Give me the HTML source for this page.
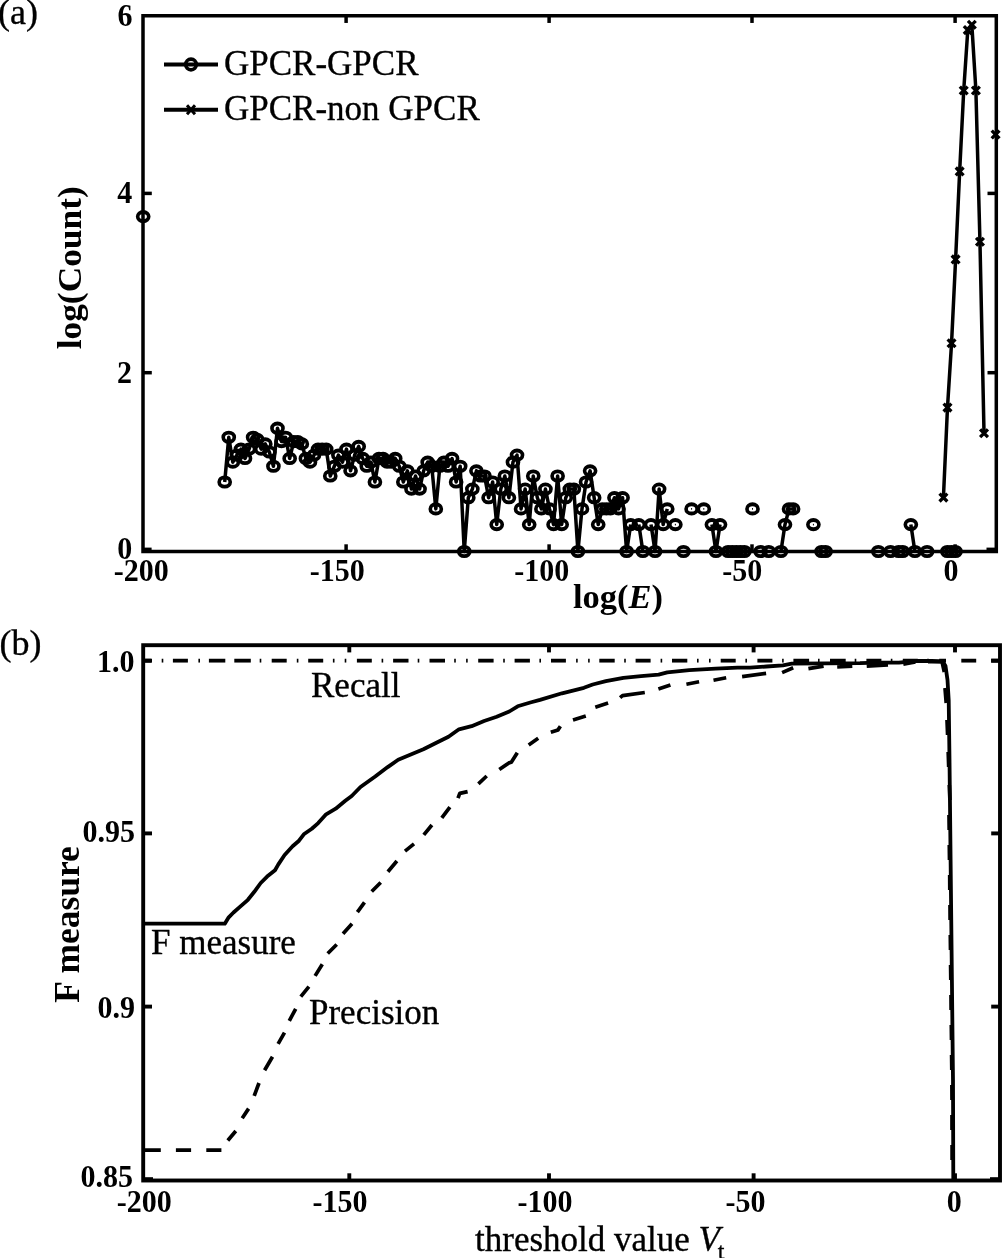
<!DOCTYPE html>
<html><head><meta charset="utf-8"><style>
html,body{margin:0;padding:0;background:#fff;overflow:hidden;}
svg{display:block;font-family:"Liberation Serif",serif;will-change:transform;}
</style></head><body>
<svg width="1002" height="1258" viewBox="0 0 1002 1258" font-family="Liberation Serif, serif">
<rect x="143" y="15.75" width="853.30" height="535.75" fill="none" stroke="#000" stroke-width="3.5"/>
<line x1="346.10" y1="551.5" x2="346.10" y2="544.3" stroke="#000" stroke-width="3.5"/>
<line x1="346.10" y1="15.75" x2="346.10" y2="22.95" stroke="#000" stroke-width="3.5"/>
<line x1="549.10" y1="551.5" x2="549.10" y2="544.3" stroke="#000" stroke-width="3.5"/>
<line x1="549.10" y1="15.75" x2="549.10" y2="22.95" stroke="#000" stroke-width="3.5"/>
<line x1="752.00" y1="551.5" x2="752.00" y2="544.3" stroke="#000" stroke-width="3.5"/>
<line x1="752.00" y1="15.75" x2="752.00" y2="22.95" stroke="#000" stroke-width="3.5"/>
<line x1="955.10" y1="551.5" x2="955.10" y2="544.3" stroke="#000" stroke-width="3.5"/>
<line x1="955.10" y1="15.75" x2="955.10" y2="22.95" stroke="#000" stroke-width="3.5"/>
<line x1="143" y1="372.70" x2="151.8" y2="372.70" stroke="#000" stroke-width="3.5"/>
<line x1="996.3" y1="372.70" x2="987.5" y2="372.70" stroke="#000" stroke-width="3.5"/>
<line x1="143" y1="193.40" x2="151.8" y2="193.40" stroke="#000" stroke-width="3.5"/>
<line x1="996.3" y1="193.40" x2="987.5" y2="193.40" stroke="#000" stroke-width="3.5"/>
<rect x="143" y="547.6" width="8.6" height="2.4" fill="#000"/>
<rect x="986.5" y="547.6" width="9" height="2.4" fill="#000"/>
<rect x="143" y="1177.2" width="10" height="2.4" fill="#000"/>
<rect x="990" y="1177.2" width="9" height="2.4" fill="#000"/>
<rect x="143.2" y="645.2" width="856.80" height="535.30" fill="none" stroke="#000" stroke-width="3.9"/>
<line x1="349.30" y1="1180.5" x2="349.30" y2="1173.3" stroke="#000" stroke-width="3.9"/>
<line x1="349.30" y1="645.2" x2="349.30" y2="652.4000000000001" stroke="#000" stroke-width="3.9"/>
<line x1="549.00" y1="1180.5" x2="549.00" y2="1173.3" stroke="#000" stroke-width="3.9"/>
<line x1="549.00" y1="645.2" x2="549.00" y2="652.4000000000001" stroke="#000" stroke-width="3.9"/>
<line x1="753.60" y1="1180.5" x2="753.60" y2="1173.3" stroke="#000" stroke-width="3.9"/>
<line x1="753.60" y1="645.2" x2="753.60" y2="652.4000000000001" stroke="#000" stroke-width="3.9"/>
<line x1="955.00" y1="1180.5" x2="955.00" y2="1173.3" stroke="#000" stroke-width="3.9"/>
<line x1="955.00" y1="645.2" x2="955.00" y2="652.4000000000001" stroke="#000" stroke-width="3.9"/>
<line x1="143.2" y1="1006.60" x2="152.0" y2="1006.60" stroke="#000" stroke-width="3.9"/>
<line x1="1000" y1="1006.60" x2="991.2" y2="1006.60" stroke="#000" stroke-width="3.9"/>
<line x1="143.2" y1="833.40" x2="152.0" y2="833.40" stroke="#000" stroke-width="3.9"/>
<line x1="1000" y1="833.40" x2="991.2" y2="833.40" stroke="#000" stroke-width="3.9"/>
<line x1="143.2" y1="660.70" x2="152.0" y2="660.70" stroke="#000" stroke-width="3.9"/>
<line x1="1000" y1="660.70" x2="991.2" y2="660.70" stroke="#000" stroke-width="3.9"/>
<path d="M224.70,481.99 L228.76,437.27 L232.82,462.17 L236.88,455.10 L240.94,449.12 L245.00,458.47 L249.06,449.12 L253.12,437.27 L257.18,439.37 L261.24,449.12 L265.30,443.94 L269.36,451.99 L273.42,466.26 L277.48,428.21 L281.54,441.58 L285.60,437.27 L289.66,458.47 L293.72,441.58 L297.78,441.58 L301.84,443.94 L305.90,458.47 L309.96,462.17 L314.02,455.10 L318.08,449.12 L322.14,449.12 L326.20,449.12 L330.26,476.01 L334.32,466.26 L338.38,455.10 L342.44,462.17 L346.50,449.12 L350.56,470.83 L354.62,455.10 L358.68,446.44 L362.74,458.47 L366.80,466.26 L370.86,462.17 L374.92,481.99 L378.98,458.47 L383.04,458.47 L387.10,462.17 L391.16,462.17 L395.22,458.47 L399.28,466.26 L403.34,481.99 L407.40,470.83 L411.46,489.06 L415.52,476.01 L419.58,489.06 L423.64,470.83 L427.70,462.17 L431.76,466.26 L435.82,508.88 L439.88,466.26 L443.94,462.17 L448.00,466.26 L452.06,458.47 L456.12,481.99 L460.18,466.26 L464.24,551.50 L468.30,497.72 L472.36,489.06 L476.42,470.83 L480.48,476.01 L484.54,476.01 L488.60,497.72 L492.66,481.99 L496.72,524.61 L500.78,489.06 L504.84,476.01 L508.90,497.72 L512.96,462.17 L517.02,455.10 L521.08,508.88 L525.14,489.06 L529.20,524.61 L533.26,476.01 L537.32,497.72 L541.38,508.88 L545.44,489.06 L549.50,508.88 L553.56,524.61 L557.62,476.01 L561.68,524.61 L565.74,497.72 L569.80,489.06 L573.86,489.06 L577.92,551.50 L581.98,508.88 L586.04,481.99 L590.10,470.83 L594.16,497.72 L598.22,524.61 L602.28,508.88 L606.34,508.88 L610.40,508.88 L614.46,497.72 L618.52,508.88 L622.58,497.72 L626.64,551.50 L630.70,524.61 M638.82,524.61 L642.88,551.50 M651.00,524.61 L655.06,551.50 L659.12,489.06 L663.18,524.61 L667.24,508.88 M711.90,524.61 L715.96,551.50 L720.02,524.61 M728.14,551.50 L732.20,551.50 L736.26,551.50 L740.32,551.50 L744.38,551.50 M780.92,551.50 L784.98,524.61 L789.04,508.88 L793.10,508.88 M821.52,551.50 L825.58,551.50 M898.66,551.50 L902.72,551.50 M910.84,524.61 L914.90,551.50 M947.38,551.50 L951.44,551.50 L955.50,551.50 " fill="none" stroke="#000" stroke-width="3.5" stroke-linejoin="round"/>
<g fill="#000" fill-rule="evenodd"><path d="M217.35,481.99a7.35,6.6 0 1,0 14.7,0a7.35,6.6 0 1,0 -14.7,0ZM221.00,481.99a3.7,2.7 0 1,0 7.4,0a3.7,2.7 0 1,0 -7.4,0Z"/><path d="M221.41,437.27a7.35,6.6 0 1,0 14.7,0a7.35,6.6 0 1,0 -14.7,0ZM225.06,437.27a3.7,2.7 0 1,0 7.4,0a3.7,2.7 0 1,0 -7.4,0Z"/><path d="M225.47,462.17a7.35,6.6 0 1,0 14.7,0a7.35,6.6 0 1,0 -14.7,0ZM229.12,462.17a3.7,2.7 0 1,0 7.4,0a3.7,2.7 0 1,0 -7.4,0Z"/><path d="M229.53,455.10a7.35,6.6 0 1,0 14.7,0a7.35,6.6 0 1,0 -14.7,0ZM233.18,455.10a3.7,2.7 0 1,0 7.4,0a3.7,2.7 0 1,0 -7.4,0Z"/><path d="M233.59,449.12a7.35,6.6 0 1,0 14.7,0a7.35,6.6 0 1,0 -14.7,0ZM237.24,449.12a3.7,2.7 0 1,0 7.4,0a3.7,2.7 0 1,0 -7.4,0Z"/><path d="M237.65,458.47a7.35,6.6 0 1,0 14.7,0a7.35,6.6 0 1,0 -14.7,0ZM241.30,458.47a3.7,2.7 0 1,0 7.4,0a3.7,2.7 0 1,0 -7.4,0Z"/><path d="M241.71,449.12a7.35,6.6 0 1,0 14.7,0a7.35,6.6 0 1,0 -14.7,0ZM245.36,449.12a3.7,2.7 0 1,0 7.4,0a3.7,2.7 0 1,0 -7.4,0Z"/><path d="M245.77,437.27a7.35,6.6 0 1,0 14.7,0a7.35,6.6 0 1,0 -14.7,0ZM249.42,437.27a3.7,2.7 0 1,0 7.4,0a3.7,2.7 0 1,0 -7.4,0Z"/><path d="M249.83,439.37a7.35,6.6 0 1,0 14.7,0a7.35,6.6 0 1,0 -14.7,0ZM253.48,439.37a3.7,2.7 0 1,0 7.4,0a3.7,2.7 0 1,0 -7.4,0Z"/><path d="M253.89,449.12a7.35,6.6 0 1,0 14.7,0a7.35,6.6 0 1,0 -14.7,0ZM257.54,449.12a3.7,2.7 0 1,0 7.4,0a3.7,2.7 0 1,0 -7.4,0Z"/><path d="M257.95,443.94a7.35,6.6 0 1,0 14.7,0a7.35,6.6 0 1,0 -14.7,0ZM261.60,443.94a3.7,2.7 0 1,0 7.4,0a3.7,2.7 0 1,0 -7.4,0Z"/><path d="M262.01,451.99a7.35,6.6 0 1,0 14.7,0a7.35,6.6 0 1,0 -14.7,0ZM265.66,451.99a3.7,2.7 0 1,0 7.4,0a3.7,2.7 0 1,0 -7.4,0Z"/><path d="M266.07,466.26a7.35,6.6 0 1,0 14.7,0a7.35,6.6 0 1,0 -14.7,0ZM269.72,466.26a3.7,2.7 0 1,0 7.4,0a3.7,2.7 0 1,0 -7.4,0Z"/><path d="M270.13,428.21a7.35,6.6 0 1,0 14.7,0a7.35,6.6 0 1,0 -14.7,0ZM273.78,428.21a3.7,2.7 0 1,0 7.4,0a3.7,2.7 0 1,0 -7.4,0Z"/><path d="M274.19,441.58a7.35,6.6 0 1,0 14.7,0a7.35,6.6 0 1,0 -14.7,0ZM277.84,441.58a3.7,2.7 0 1,0 7.4,0a3.7,2.7 0 1,0 -7.4,0Z"/><path d="M278.25,437.27a7.35,6.6 0 1,0 14.7,0a7.35,6.6 0 1,0 -14.7,0ZM281.90,437.27a3.7,2.7 0 1,0 7.4,0a3.7,2.7 0 1,0 -7.4,0Z"/><path d="M282.31,458.47a7.35,6.6 0 1,0 14.7,0a7.35,6.6 0 1,0 -14.7,0ZM285.96,458.47a3.7,2.7 0 1,0 7.4,0a3.7,2.7 0 1,0 -7.4,0Z"/><path d="M286.37,441.58a7.35,6.6 0 1,0 14.7,0a7.35,6.6 0 1,0 -14.7,0ZM290.02,441.58a3.7,2.7 0 1,0 7.4,0a3.7,2.7 0 1,0 -7.4,0Z"/><path d="M290.43,441.58a7.35,6.6 0 1,0 14.7,0a7.35,6.6 0 1,0 -14.7,0ZM294.08,441.58a3.7,2.7 0 1,0 7.4,0a3.7,2.7 0 1,0 -7.4,0Z"/><path d="M294.49,443.94a7.35,6.6 0 1,0 14.7,0a7.35,6.6 0 1,0 -14.7,0ZM298.14,443.94a3.7,2.7 0 1,0 7.4,0a3.7,2.7 0 1,0 -7.4,0Z"/><path d="M298.55,458.47a7.35,6.6 0 1,0 14.7,0a7.35,6.6 0 1,0 -14.7,0ZM302.20,458.47a3.7,2.7 0 1,0 7.4,0a3.7,2.7 0 1,0 -7.4,0Z"/><path d="M302.61,462.17a7.35,6.6 0 1,0 14.7,0a7.35,6.6 0 1,0 -14.7,0ZM306.26,462.17a3.7,2.7 0 1,0 7.4,0a3.7,2.7 0 1,0 -7.4,0Z"/><path d="M306.67,455.10a7.35,6.6 0 1,0 14.7,0a7.35,6.6 0 1,0 -14.7,0ZM310.32,455.10a3.7,2.7 0 1,0 7.4,0a3.7,2.7 0 1,0 -7.4,0Z"/><path d="M310.73,449.12a7.35,6.6 0 1,0 14.7,0a7.35,6.6 0 1,0 -14.7,0ZM314.38,449.12a3.7,2.7 0 1,0 7.4,0a3.7,2.7 0 1,0 -7.4,0Z"/><path d="M314.79,449.12a7.35,6.6 0 1,0 14.7,0a7.35,6.6 0 1,0 -14.7,0ZM318.44,449.12a3.7,2.7 0 1,0 7.4,0a3.7,2.7 0 1,0 -7.4,0Z"/><path d="M318.85,449.12a7.35,6.6 0 1,0 14.7,0a7.35,6.6 0 1,0 -14.7,0ZM322.50,449.12a3.7,2.7 0 1,0 7.4,0a3.7,2.7 0 1,0 -7.4,0Z"/><path d="M322.91,476.01a7.35,6.6 0 1,0 14.7,0a7.35,6.6 0 1,0 -14.7,0ZM326.56,476.01a3.7,2.7 0 1,0 7.4,0a3.7,2.7 0 1,0 -7.4,0Z"/><path d="M326.97,466.26a7.35,6.6 0 1,0 14.7,0a7.35,6.6 0 1,0 -14.7,0ZM330.62,466.26a3.7,2.7 0 1,0 7.4,0a3.7,2.7 0 1,0 -7.4,0Z"/><path d="M331.03,455.10a7.35,6.6 0 1,0 14.7,0a7.35,6.6 0 1,0 -14.7,0ZM334.68,455.10a3.7,2.7 0 1,0 7.4,0a3.7,2.7 0 1,0 -7.4,0Z"/><path d="M335.09,462.17a7.35,6.6 0 1,0 14.7,0a7.35,6.6 0 1,0 -14.7,0ZM338.74,462.17a3.7,2.7 0 1,0 7.4,0a3.7,2.7 0 1,0 -7.4,0Z"/><path d="M339.15,449.12a7.35,6.6 0 1,0 14.7,0a7.35,6.6 0 1,0 -14.7,0ZM342.80,449.12a3.7,2.7 0 1,0 7.4,0a3.7,2.7 0 1,0 -7.4,0Z"/><path d="M343.21,470.83a7.35,6.6 0 1,0 14.7,0a7.35,6.6 0 1,0 -14.7,0ZM346.86,470.83a3.7,2.7 0 1,0 7.4,0a3.7,2.7 0 1,0 -7.4,0Z"/><path d="M347.27,455.10a7.35,6.6 0 1,0 14.7,0a7.35,6.6 0 1,0 -14.7,0ZM350.92,455.10a3.7,2.7 0 1,0 7.4,0a3.7,2.7 0 1,0 -7.4,0Z"/><path d="M351.33,446.44a7.35,6.6 0 1,0 14.7,0a7.35,6.6 0 1,0 -14.7,0ZM354.98,446.44a3.7,2.7 0 1,0 7.4,0a3.7,2.7 0 1,0 -7.4,0Z"/><path d="M355.39,458.47a7.35,6.6 0 1,0 14.7,0a7.35,6.6 0 1,0 -14.7,0ZM359.04,458.47a3.7,2.7 0 1,0 7.4,0a3.7,2.7 0 1,0 -7.4,0Z"/><path d="M359.45,466.26a7.35,6.6 0 1,0 14.7,0a7.35,6.6 0 1,0 -14.7,0ZM363.10,466.26a3.7,2.7 0 1,0 7.4,0a3.7,2.7 0 1,0 -7.4,0Z"/><path d="M363.51,462.17a7.35,6.6 0 1,0 14.7,0a7.35,6.6 0 1,0 -14.7,0ZM367.16,462.17a3.7,2.7 0 1,0 7.4,0a3.7,2.7 0 1,0 -7.4,0Z"/><path d="M367.57,481.99a7.35,6.6 0 1,0 14.7,0a7.35,6.6 0 1,0 -14.7,0ZM371.22,481.99a3.7,2.7 0 1,0 7.4,0a3.7,2.7 0 1,0 -7.4,0Z"/><path d="M371.63,458.47a7.35,6.6 0 1,0 14.7,0a7.35,6.6 0 1,0 -14.7,0ZM375.28,458.47a3.7,2.7 0 1,0 7.4,0a3.7,2.7 0 1,0 -7.4,0Z"/><path d="M375.69,458.47a7.35,6.6 0 1,0 14.7,0a7.35,6.6 0 1,0 -14.7,0ZM379.34,458.47a3.7,2.7 0 1,0 7.4,0a3.7,2.7 0 1,0 -7.4,0Z"/><path d="M379.75,462.17a7.35,6.6 0 1,0 14.7,0a7.35,6.6 0 1,0 -14.7,0ZM383.40,462.17a3.7,2.7 0 1,0 7.4,0a3.7,2.7 0 1,0 -7.4,0Z"/><path d="M383.81,462.17a7.35,6.6 0 1,0 14.7,0a7.35,6.6 0 1,0 -14.7,0ZM387.46,462.17a3.7,2.7 0 1,0 7.4,0a3.7,2.7 0 1,0 -7.4,0Z"/><path d="M387.87,458.47a7.35,6.6 0 1,0 14.7,0a7.35,6.6 0 1,0 -14.7,0ZM391.52,458.47a3.7,2.7 0 1,0 7.4,0a3.7,2.7 0 1,0 -7.4,0Z"/><path d="M391.93,466.26a7.35,6.6 0 1,0 14.7,0a7.35,6.6 0 1,0 -14.7,0ZM395.58,466.26a3.7,2.7 0 1,0 7.4,0a3.7,2.7 0 1,0 -7.4,0Z"/><path d="M395.99,481.99a7.35,6.6 0 1,0 14.7,0a7.35,6.6 0 1,0 -14.7,0ZM399.64,481.99a3.7,2.7 0 1,0 7.4,0a3.7,2.7 0 1,0 -7.4,0Z"/><path d="M400.05,470.83a7.35,6.6 0 1,0 14.7,0a7.35,6.6 0 1,0 -14.7,0ZM403.70,470.83a3.7,2.7 0 1,0 7.4,0a3.7,2.7 0 1,0 -7.4,0Z"/><path d="M404.11,489.06a7.35,6.6 0 1,0 14.7,0a7.35,6.6 0 1,0 -14.7,0ZM407.76,489.06a3.7,2.7 0 1,0 7.4,0a3.7,2.7 0 1,0 -7.4,0Z"/><path d="M408.17,476.01a7.35,6.6 0 1,0 14.7,0a7.35,6.6 0 1,0 -14.7,0ZM411.82,476.01a3.7,2.7 0 1,0 7.4,0a3.7,2.7 0 1,0 -7.4,0Z"/><path d="M412.23,489.06a7.35,6.6 0 1,0 14.7,0a7.35,6.6 0 1,0 -14.7,0ZM415.88,489.06a3.7,2.7 0 1,0 7.4,0a3.7,2.7 0 1,0 -7.4,0Z"/><path d="M416.29,470.83a7.35,6.6 0 1,0 14.7,0a7.35,6.6 0 1,0 -14.7,0ZM419.94,470.83a3.7,2.7 0 1,0 7.4,0a3.7,2.7 0 1,0 -7.4,0Z"/><path d="M420.35,462.17a7.35,6.6 0 1,0 14.7,0a7.35,6.6 0 1,0 -14.7,0ZM424.00,462.17a3.7,2.7 0 1,0 7.4,0a3.7,2.7 0 1,0 -7.4,0Z"/><path d="M424.41,466.26a7.35,6.6 0 1,0 14.7,0a7.35,6.6 0 1,0 -14.7,0ZM428.06,466.26a3.7,2.7 0 1,0 7.4,0a3.7,2.7 0 1,0 -7.4,0Z"/><path d="M428.47,508.88a7.35,6.6 0 1,0 14.7,0a7.35,6.6 0 1,0 -14.7,0ZM432.12,508.88a3.7,2.7 0 1,0 7.4,0a3.7,2.7 0 1,0 -7.4,0Z"/><path d="M432.53,466.26a7.35,6.6 0 1,0 14.7,0a7.35,6.6 0 1,0 -14.7,0ZM436.18,466.26a3.7,2.7 0 1,0 7.4,0a3.7,2.7 0 1,0 -7.4,0Z"/><path d="M436.59,462.17a7.35,6.6 0 1,0 14.7,0a7.35,6.6 0 1,0 -14.7,0ZM440.24,462.17a3.7,2.7 0 1,0 7.4,0a3.7,2.7 0 1,0 -7.4,0Z"/><path d="M440.65,466.26a7.35,6.6 0 1,0 14.7,0a7.35,6.6 0 1,0 -14.7,0ZM444.30,466.26a3.7,2.7 0 1,0 7.4,0a3.7,2.7 0 1,0 -7.4,0Z"/><path d="M444.71,458.47a7.35,6.6 0 1,0 14.7,0a7.35,6.6 0 1,0 -14.7,0ZM448.36,458.47a3.7,2.7 0 1,0 7.4,0a3.7,2.7 0 1,0 -7.4,0Z"/><path d="M448.77,481.99a7.35,6.6 0 1,0 14.7,0a7.35,6.6 0 1,0 -14.7,0ZM452.42,481.99a3.7,2.7 0 1,0 7.4,0a3.7,2.7 0 1,0 -7.4,0Z"/><path d="M452.83,466.26a7.35,6.6 0 1,0 14.7,0a7.35,6.6 0 1,0 -14.7,0ZM456.48,466.26a3.7,2.7 0 1,0 7.4,0a3.7,2.7 0 1,0 -7.4,0Z"/><path d="M456.89,551.50a7.35,6.6 0 1,0 14.7,0a7.35,6.6 0 1,0 -14.7,0ZM460.54,551.50a3.7,2.7 0 1,0 7.4,0a3.7,2.7 0 1,0 -7.4,0Z"/><path d="M460.95,497.72a7.35,6.6 0 1,0 14.7,0a7.35,6.6 0 1,0 -14.7,0ZM464.60,497.72a3.7,2.7 0 1,0 7.4,0a3.7,2.7 0 1,0 -7.4,0Z"/><path d="M465.01,489.06a7.35,6.6 0 1,0 14.7,0a7.35,6.6 0 1,0 -14.7,0ZM468.66,489.06a3.7,2.7 0 1,0 7.4,0a3.7,2.7 0 1,0 -7.4,0Z"/><path d="M469.07,470.83a7.35,6.6 0 1,0 14.7,0a7.35,6.6 0 1,0 -14.7,0ZM472.72,470.83a3.7,2.7 0 1,0 7.4,0a3.7,2.7 0 1,0 -7.4,0Z"/><path d="M473.13,476.01a7.35,6.6 0 1,0 14.7,0a7.35,6.6 0 1,0 -14.7,0ZM476.78,476.01a3.7,2.7 0 1,0 7.4,0a3.7,2.7 0 1,0 -7.4,0Z"/><path d="M477.19,476.01a7.35,6.6 0 1,0 14.7,0a7.35,6.6 0 1,0 -14.7,0ZM480.84,476.01a3.7,2.7 0 1,0 7.4,0a3.7,2.7 0 1,0 -7.4,0Z"/><path d="M481.25,497.72a7.35,6.6 0 1,0 14.7,0a7.35,6.6 0 1,0 -14.7,0ZM484.90,497.72a3.7,2.7 0 1,0 7.4,0a3.7,2.7 0 1,0 -7.4,0Z"/><path d="M485.31,481.99a7.35,6.6 0 1,0 14.7,0a7.35,6.6 0 1,0 -14.7,0ZM488.96,481.99a3.7,2.7 0 1,0 7.4,0a3.7,2.7 0 1,0 -7.4,0Z"/><path d="M489.37,524.61a7.35,6.6 0 1,0 14.7,0a7.35,6.6 0 1,0 -14.7,0ZM493.02,524.61a3.7,2.7 0 1,0 7.4,0a3.7,2.7 0 1,0 -7.4,0Z"/><path d="M493.43,489.06a7.35,6.6 0 1,0 14.7,0a7.35,6.6 0 1,0 -14.7,0ZM497.08,489.06a3.7,2.7 0 1,0 7.4,0a3.7,2.7 0 1,0 -7.4,0Z"/><path d="M497.49,476.01a7.35,6.6 0 1,0 14.7,0a7.35,6.6 0 1,0 -14.7,0ZM501.14,476.01a3.7,2.7 0 1,0 7.4,0a3.7,2.7 0 1,0 -7.4,0Z"/><path d="M501.55,497.72a7.35,6.6 0 1,0 14.7,0a7.35,6.6 0 1,0 -14.7,0ZM505.20,497.72a3.7,2.7 0 1,0 7.4,0a3.7,2.7 0 1,0 -7.4,0Z"/><path d="M505.61,462.17a7.35,6.6 0 1,0 14.7,0a7.35,6.6 0 1,0 -14.7,0ZM509.26,462.17a3.7,2.7 0 1,0 7.4,0a3.7,2.7 0 1,0 -7.4,0Z"/><path d="M509.67,455.10a7.35,6.6 0 1,0 14.7,0a7.35,6.6 0 1,0 -14.7,0ZM513.32,455.10a3.7,2.7 0 1,0 7.4,0a3.7,2.7 0 1,0 -7.4,0Z"/><path d="M513.73,508.88a7.35,6.6 0 1,0 14.7,0a7.35,6.6 0 1,0 -14.7,0ZM517.38,508.88a3.7,2.7 0 1,0 7.4,0a3.7,2.7 0 1,0 -7.4,0Z"/><path d="M517.79,489.06a7.35,6.6 0 1,0 14.7,0a7.35,6.6 0 1,0 -14.7,0ZM521.44,489.06a3.7,2.7 0 1,0 7.4,0a3.7,2.7 0 1,0 -7.4,0Z"/><path d="M521.85,524.61a7.35,6.6 0 1,0 14.7,0a7.35,6.6 0 1,0 -14.7,0ZM525.50,524.61a3.7,2.7 0 1,0 7.4,0a3.7,2.7 0 1,0 -7.4,0Z"/><path d="M525.91,476.01a7.35,6.6 0 1,0 14.7,0a7.35,6.6 0 1,0 -14.7,0ZM529.56,476.01a3.7,2.7 0 1,0 7.4,0a3.7,2.7 0 1,0 -7.4,0Z"/><path d="M529.97,497.72a7.35,6.6 0 1,0 14.7,0a7.35,6.6 0 1,0 -14.7,0ZM533.62,497.72a3.7,2.7 0 1,0 7.4,0a3.7,2.7 0 1,0 -7.4,0Z"/><path d="M534.03,508.88a7.35,6.6 0 1,0 14.7,0a7.35,6.6 0 1,0 -14.7,0ZM537.68,508.88a3.7,2.7 0 1,0 7.4,0a3.7,2.7 0 1,0 -7.4,0Z"/><path d="M538.09,489.06a7.35,6.6 0 1,0 14.7,0a7.35,6.6 0 1,0 -14.7,0ZM541.74,489.06a3.7,2.7 0 1,0 7.4,0a3.7,2.7 0 1,0 -7.4,0Z"/><path d="M542.15,508.88a7.35,6.6 0 1,0 14.7,0a7.35,6.6 0 1,0 -14.7,0ZM545.80,508.88a3.7,2.7 0 1,0 7.4,0a3.7,2.7 0 1,0 -7.4,0Z"/><path d="M546.21,524.61a7.35,6.6 0 1,0 14.7,0a7.35,6.6 0 1,0 -14.7,0ZM549.86,524.61a3.7,2.7 0 1,0 7.4,0a3.7,2.7 0 1,0 -7.4,0Z"/><path d="M550.27,476.01a7.35,6.6 0 1,0 14.7,0a7.35,6.6 0 1,0 -14.7,0ZM553.92,476.01a3.7,2.7 0 1,0 7.4,0a3.7,2.7 0 1,0 -7.4,0Z"/><path d="M554.33,524.61a7.35,6.6 0 1,0 14.7,0a7.35,6.6 0 1,0 -14.7,0ZM557.98,524.61a3.7,2.7 0 1,0 7.4,0a3.7,2.7 0 1,0 -7.4,0Z"/><path d="M558.39,497.72a7.35,6.6 0 1,0 14.7,0a7.35,6.6 0 1,0 -14.7,0ZM562.04,497.72a3.7,2.7 0 1,0 7.4,0a3.7,2.7 0 1,0 -7.4,0Z"/><path d="M562.45,489.06a7.35,6.6 0 1,0 14.7,0a7.35,6.6 0 1,0 -14.7,0ZM566.10,489.06a3.7,2.7 0 1,0 7.4,0a3.7,2.7 0 1,0 -7.4,0Z"/><path d="M566.51,489.06a7.35,6.6 0 1,0 14.7,0a7.35,6.6 0 1,0 -14.7,0ZM570.16,489.06a3.7,2.7 0 1,0 7.4,0a3.7,2.7 0 1,0 -7.4,0Z"/><path d="M570.57,551.50a7.35,6.6 0 1,0 14.7,0a7.35,6.6 0 1,0 -14.7,0ZM574.22,551.50a3.7,2.7 0 1,0 7.4,0a3.7,2.7 0 1,0 -7.4,0Z"/><path d="M574.63,508.88a7.35,6.6 0 1,0 14.7,0a7.35,6.6 0 1,0 -14.7,0ZM578.28,508.88a3.7,2.7 0 1,0 7.4,0a3.7,2.7 0 1,0 -7.4,0Z"/><path d="M578.69,481.99a7.35,6.6 0 1,0 14.7,0a7.35,6.6 0 1,0 -14.7,0ZM582.34,481.99a3.7,2.7 0 1,0 7.4,0a3.7,2.7 0 1,0 -7.4,0Z"/><path d="M582.75,470.83a7.35,6.6 0 1,0 14.7,0a7.35,6.6 0 1,0 -14.7,0ZM586.40,470.83a3.7,2.7 0 1,0 7.4,0a3.7,2.7 0 1,0 -7.4,0Z"/><path d="M586.81,497.72a7.35,6.6 0 1,0 14.7,0a7.35,6.6 0 1,0 -14.7,0ZM590.46,497.72a3.7,2.7 0 1,0 7.4,0a3.7,2.7 0 1,0 -7.4,0Z"/><path d="M590.87,524.61a7.35,6.6 0 1,0 14.7,0a7.35,6.6 0 1,0 -14.7,0ZM594.52,524.61a3.7,2.7 0 1,0 7.4,0a3.7,2.7 0 1,0 -7.4,0Z"/><path d="M594.93,508.88a7.35,6.6 0 1,0 14.7,0a7.35,6.6 0 1,0 -14.7,0ZM598.58,508.88a3.7,2.7 0 1,0 7.4,0a3.7,2.7 0 1,0 -7.4,0Z"/><path d="M598.99,508.88a7.35,6.6 0 1,0 14.7,0a7.35,6.6 0 1,0 -14.7,0ZM602.64,508.88a3.7,2.7 0 1,0 7.4,0a3.7,2.7 0 1,0 -7.4,0Z"/><path d="M603.05,508.88a7.35,6.6 0 1,0 14.7,0a7.35,6.6 0 1,0 -14.7,0ZM606.70,508.88a3.7,2.7 0 1,0 7.4,0a3.7,2.7 0 1,0 -7.4,0Z"/><path d="M607.11,497.72a7.35,6.6 0 1,0 14.7,0a7.35,6.6 0 1,0 -14.7,0ZM610.76,497.72a3.7,2.7 0 1,0 7.4,0a3.7,2.7 0 1,0 -7.4,0Z"/><path d="M611.17,508.88a7.35,6.6 0 1,0 14.7,0a7.35,6.6 0 1,0 -14.7,0ZM614.82,508.88a3.7,2.7 0 1,0 7.4,0a3.7,2.7 0 1,0 -7.4,0Z"/><path d="M615.23,497.72a7.35,6.6 0 1,0 14.7,0a7.35,6.6 0 1,0 -14.7,0ZM618.88,497.72a3.7,2.7 0 1,0 7.4,0a3.7,2.7 0 1,0 -7.4,0Z"/><path d="M619.29,551.50a7.35,6.6 0 1,0 14.7,0a7.35,6.6 0 1,0 -14.7,0ZM622.94,551.50a3.7,2.7 0 1,0 7.4,0a3.7,2.7 0 1,0 -7.4,0Z"/><path d="M623.35,524.61a7.35,6.6 0 1,0 14.7,0a7.35,6.6 0 1,0 -14.7,0ZM627.00,524.61a3.7,2.7 0 1,0 7.4,0a3.7,2.7 0 1,0 -7.4,0Z"/><path d="M631.47,524.61a7.35,6.6 0 1,0 14.7,0a7.35,6.6 0 1,0 -14.7,0ZM635.12,524.61a3.7,2.7 0 1,0 7.4,0a3.7,2.7 0 1,0 -7.4,0Z"/><path d="M635.53,551.50a7.35,6.6 0 1,0 14.7,0a7.35,6.6 0 1,0 -14.7,0ZM639.18,551.50a3.7,2.7 0 1,0 7.4,0a3.7,2.7 0 1,0 -7.4,0Z"/><path d="M643.65,524.61a7.35,6.6 0 1,0 14.7,0a7.35,6.6 0 1,0 -14.7,0ZM647.30,524.61a3.7,2.7 0 1,0 7.4,0a3.7,2.7 0 1,0 -7.4,0Z"/><path d="M647.71,551.50a7.35,6.6 0 1,0 14.7,0a7.35,6.6 0 1,0 -14.7,0ZM651.36,551.50a3.7,2.7 0 1,0 7.4,0a3.7,2.7 0 1,0 -7.4,0Z"/><path d="M651.77,489.06a7.35,6.6 0 1,0 14.7,0a7.35,6.6 0 1,0 -14.7,0ZM655.42,489.06a3.7,2.7 0 1,0 7.4,0a3.7,2.7 0 1,0 -7.4,0Z"/><path d="M655.83,524.61a7.35,6.6 0 1,0 14.7,0a7.35,6.6 0 1,0 -14.7,0ZM659.48,524.61a3.7,2.7 0 1,0 7.4,0a3.7,2.7 0 1,0 -7.4,0Z"/><path d="M659.89,508.88a7.35,6.6 0 1,0 14.7,0a7.35,6.6 0 1,0 -14.7,0ZM663.54,508.88a3.7,2.7 0 1,0 7.4,0a3.7,2.7 0 1,0 -7.4,0Z"/><path d="M668.01,524.61a7.35,6.6 0 1,0 14.7,0a7.35,6.6 0 1,0 -14.7,0ZM671.66,524.61a3.7,2.7 0 1,0 7.4,0a3.7,2.7 0 1,0 -7.4,0Z"/><path d="M676.13,551.50a7.35,6.6 0 1,0 14.7,0a7.35,6.6 0 1,0 -14.7,0ZM679.78,551.50a3.7,2.7 0 1,0 7.4,0a3.7,2.7 0 1,0 -7.4,0Z"/><path d="M684.25,508.88a7.35,6.6 0 1,0 14.7,0a7.35,6.6 0 1,0 -14.7,0ZM687.90,508.88a3.7,2.7 0 1,0 7.4,0a3.7,2.7 0 1,0 -7.4,0Z"/><path d="M696.43,508.88a7.35,6.6 0 1,0 14.7,0a7.35,6.6 0 1,0 -14.7,0ZM700.08,508.88a3.7,2.7 0 1,0 7.4,0a3.7,2.7 0 1,0 -7.4,0Z"/><path d="M704.55,524.61a7.35,6.6 0 1,0 14.7,0a7.35,6.6 0 1,0 -14.7,0ZM708.20,524.61a3.7,2.7 0 1,0 7.4,0a3.7,2.7 0 1,0 -7.4,0Z"/><path d="M708.61,551.50a7.35,6.6 0 1,0 14.7,0a7.35,6.6 0 1,0 -14.7,0ZM712.26,551.50a3.7,2.7 0 1,0 7.4,0a3.7,2.7 0 1,0 -7.4,0Z"/><path d="M712.67,524.61a7.35,6.6 0 1,0 14.7,0a7.35,6.6 0 1,0 -14.7,0ZM716.32,524.61a3.7,2.7 0 1,0 7.4,0a3.7,2.7 0 1,0 -7.4,0Z"/><path d="M720.79,551.50a7.35,6.6 0 1,0 14.7,0a7.35,6.6 0 1,0 -14.7,0ZM724.44,551.50a3.7,2.7 0 1,0 7.4,0a3.7,2.7 0 1,0 -7.4,0Z"/><path d="M724.85,551.50a7.35,6.6 0 1,0 14.7,0a7.35,6.6 0 1,0 -14.7,0ZM728.50,551.50a3.7,2.7 0 1,0 7.4,0a3.7,2.7 0 1,0 -7.4,0Z"/><path d="M728.91,551.50a7.35,6.6 0 1,0 14.7,0a7.35,6.6 0 1,0 -14.7,0ZM732.56,551.50a3.7,2.7 0 1,0 7.4,0a3.7,2.7 0 1,0 -7.4,0Z"/><path d="M732.97,551.50a7.35,6.6 0 1,0 14.7,0a7.35,6.6 0 1,0 -14.7,0ZM736.62,551.50a3.7,2.7 0 1,0 7.4,0a3.7,2.7 0 1,0 -7.4,0Z"/><path d="M737.03,551.50a7.35,6.6 0 1,0 14.7,0a7.35,6.6 0 1,0 -14.7,0ZM740.68,551.50a3.7,2.7 0 1,0 7.4,0a3.7,2.7 0 1,0 -7.4,0Z"/><path d="M745.15,508.88a7.35,6.6 0 1,0 14.7,0a7.35,6.6 0 1,0 -14.7,0ZM748.80,508.88a3.7,2.7 0 1,0 7.4,0a3.7,2.7 0 1,0 -7.4,0Z"/><path d="M753.27,551.50a7.35,6.6 0 1,0 14.7,0a7.35,6.6 0 1,0 -14.7,0ZM756.92,551.50a3.7,2.7 0 1,0 7.4,0a3.7,2.7 0 1,0 -7.4,0Z"/><path d="M761.39,551.50a7.35,6.6 0 1,0 14.7,0a7.35,6.6 0 1,0 -14.7,0ZM765.04,551.50a3.7,2.7 0 1,0 7.4,0a3.7,2.7 0 1,0 -7.4,0Z"/><path d="M773.57,551.50a7.35,6.6 0 1,0 14.7,0a7.35,6.6 0 1,0 -14.7,0ZM777.22,551.50a3.7,2.7 0 1,0 7.4,0a3.7,2.7 0 1,0 -7.4,0Z"/><path d="M777.63,524.61a7.35,6.6 0 1,0 14.7,0a7.35,6.6 0 1,0 -14.7,0ZM781.28,524.61a3.7,2.7 0 1,0 7.4,0a3.7,2.7 0 1,0 -7.4,0Z"/><path d="M781.69,508.88a7.35,6.6 0 1,0 14.7,0a7.35,6.6 0 1,0 -14.7,0ZM785.34,508.88a3.7,2.7 0 1,0 7.4,0a3.7,2.7 0 1,0 -7.4,0Z"/><path d="M785.75,508.88a7.35,6.6 0 1,0 14.7,0a7.35,6.6 0 1,0 -14.7,0ZM789.40,508.88a3.7,2.7 0 1,0 7.4,0a3.7,2.7 0 1,0 -7.4,0Z"/><path d="M806.05,524.61a7.35,6.6 0 1,0 14.7,0a7.35,6.6 0 1,0 -14.7,0ZM809.70,524.61a3.7,2.7 0 1,0 7.4,0a3.7,2.7 0 1,0 -7.4,0Z"/><path d="M814.17,551.50a7.35,6.6 0 1,0 14.7,0a7.35,6.6 0 1,0 -14.7,0ZM817.82,551.50a3.7,2.7 0 1,0 7.4,0a3.7,2.7 0 1,0 -7.4,0Z"/><path d="M818.23,551.50a7.35,6.6 0 1,0 14.7,0a7.35,6.6 0 1,0 -14.7,0ZM821.88,551.50a3.7,2.7 0 1,0 7.4,0a3.7,2.7 0 1,0 -7.4,0Z"/><path d="M871.01,551.50a7.35,6.6 0 1,0 14.7,0a7.35,6.6 0 1,0 -14.7,0ZM874.66,551.50a3.7,2.7 0 1,0 7.4,0a3.7,2.7 0 1,0 -7.4,0Z"/><path d="M883.19,551.50a7.35,6.6 0 1,0 14.7,0a7.35,6.6 0 1,0 -14.7,0ZM886.84,551.50a3.7,2.7 0 1,0 7.4,0a3.7,2.7 0 1,0 -7.4,0Z"/><path d="M891.31,551.50a7.35,6.6 0 1,0 14.7,0a7.35,6.6 0 1,0 -14.7,0ZM894.96,551.50a3.7,2.7 0 1,0 7.4,0a3.7,2.7 0 1,0 -7.4,0Z"/><path d="M895.37,551.50a7.35,6.6 0 1,0 14.7,0a7.35,6.6 0 1,0 -14.7,0ZM899.02,551.50a3.7,2.7 0 1,0 7.4,0a3.7,2.7 0 1,0 -7.4,0Z"/><path d="M903.49,524.61a7.35,6.6 0 1,0 14.7,0a7.35,6.6 0 1,0 -14.7,0ZM907.14,524.61a3.7,2.7 0 1,0 7.4,0a3.7,2.7 0 1,0 -7.4,0Z"/><path d="M907.55,551.50a7.35,6.6 0 1,0 14.7,0a7.35,6.6 0 1,0 -14.7,0ZM911.20,551.50a3.7,2.7 0 1,0 7.4,0a3.7,2.7 0 1,0 -7.4,0Z"/><path d="M919.73,551.50a7.35,6.6 0 1,0 14.7,0a7.35,6.6 0 1,0 -14.7,0ZM923.38,551.50a3.7,2.7 0 1,0 7.4,0a3.7,2.7 0 1,0 -7.4,0Z"/><path d="M940.03,551.50a7.35,6.6 0 1,0 14.7,0a7.35,6.6 0 1,0 -14.7,0ZM943.68,551.50a3.7,2.7 0 1,0 7.4,0a3.7,2.7 0 1,0 -7.4,0Z"/><path d="M944.09,551.50a7.35,6.6 0 1,0 14.7,0a7.35,6.6 0 1,0 -14.7,0ZM947.74,551.50a3.7,2.7 0 1,0 7.4,0a3.7,2.7 0 1,0 -7.4,0Z"/><path d="M948.15,551.50a7.35,6.6 0 1,0 14.7,0a7.35,6.6 0 1,0 -14.7,0ZM951.80,551.50a3.7,2.7 0 1,0 7.4,0a3.7,2.7 0 1,0 -7.4,0Z"/><path d="M135.85,216.60a7.35,6.6 0 1,0 14.7,0a7.35,6.6 0 1,0 -14.7,0ZM139.50,216.60a3.7,2.7 0 1,0 7.4,0a3.7,2.7 0 1,0 -7.4,0Z"/></g>
<g fill="#000"><rect x="674.86" y="523.81" width="1" height="1.6"/><rect x="682.98" y="550.70" width="1" height="1.6"/><rect x="691.10" y="508.08" width="1" height="1.6"/><rect x="703.28" y="508.08" width="1" height="1.6"/><rect x="752.00" y="508.08" width="1" height="1.6"/><rect x="760.12" y="550.70" width="1" height="1.6"/><rect x="768.24" y="550.70" width="1" height="1.6"/><rect x="812.90" y="523.81" width="1" height="1.6"/><rect x="877.86" y="550.70" width="1" height="1.6"/><rect x="890.04" y="550.70" width="1" height="1.6"/><rect x="926.58" y="550.70" width="1" height="1.6"/><rect x="142.70" y="215.80" width="1" height="1.6"/></g>
<path d="M943.42,497.60 L947.48,407.60 L951.54,343.30 L955.60,259.40 L959.66,171.40 L963.72,90.50 L967.78,30.10 L971.84,24.80 L975.90,90.50 L979.96,241.80 L984.02,433.30" fill="none" stroke="#000" stroke-width="3.5" stroke-linejoin="round"/>
<path d="M939.52,493.70 L947.32,501.50 M939.52,501.50 L947.32,493.70 M943.58,403.70 L951.38,411.50 M943.58,411.50 L951.38,403.70 M947.64,339.40 L955.44,347.20 M947.64,347.20 L955.44,339.40 M951.70,255.50 L959.50,263.30 M951.70,263.30 L959.50,255.50 M955.76,167.50 L963.56,175.30 M955.76,175.30 L963.56,167.50 M959.82,86.60 L967.62,94.40 M959.82,94.40 L967.62,86.60 M963.88,26.20 L971.68,34.00 M963.88,34.00 L971.68,26.20 M967.94,20.90 L975.74,28.70 M967.94,28.70 L975.74,20.90 M972.00,86.60 L979.80,94.40 M972.00,94.40 L979.80,86.60 M976.06,237.90 L983.86,245.70 M976.06,245.70 L983.86,237.90 M980.12,429.40 L987.92,437.20 M980.12,437.20 L987.92,429.40 M991.70,130.60 L999.50,138.40 M991.70,138.40 L999.50,130.60 " fill="none" stroke="#000" stroke-width="3.3"/>
<g fill="#000"><rect x="143" y="658.75" width="8.20" height="3.8"/><rect x="172.9" y="658.75" width="15.00" height="3.8"/><rect x="208.9" y="658.75" width="16.40" height="3.8"/><rect x="234.3" y="658.75" width="16.50" height="3.8"/><rect x="271.7" y="658.75" width="15.00" height="3.8"/><rect x="308.2" y="658.75" width="15.00" height="3.8"/><rect x="356.9" y="658.75" width="14.90" height="3.8"/><rect x="393.1" y="658.75" width="15.40" height="3.8"/><rect x="429.5" y="658.75" width="15.50" height="3.8"/><rect x="478.2" y="658.75" width="15.40" height="3.8"/><rect x="514.6" y="658.75" width="15.30" height="3.8"/><rect x="551" y="658.75" width="14.90" height="3.8"/><rect x="599.3" y="658.75" width="15.40" height="3.8"/><rect x="635.6" y="658.75" width="15.00" height="3.8"/><rect x="672" y="658.75" width="15.30" height="3.8"/><rect x="720.7" y="658.75" width="15.00" height="3.8"/><rect x="757.4" y="658.75" width="15.00" height="3.8"/><rect x="793.4" y="658.75" width="15.70" height="3.8"/><rect x="830" y="658.75" width="15.70" height="3.8"/><rect x="866.4" y="658.75" width="15.00" height="3.8"/><rect x="902.8" y="658.75" width="15.00" height="3.8"/><rect x="939.2" y="658.75" width="6.80" height="3.8"/><rect x="961.3" y="658.75" width="14.90" height="3.8"/><rect x="991.1" y="658.75" width="6.90" height="3.8"/><rect x="161.70" y="658.75" width="1.6" height="3.8"/><rect x="198.40" y="658.75" width="1.6" height="3.8"/><rect x="259.70" y="658.75" width="1.6" height="3.8"/><rect x="296.80" y="658.75" width="1.6" height="3.8"/><rect x="332.90" y="658.75" width="1.6" height="3.8"/><rect x="344.70" y="658.75" width="1.6" height="3.8"/><rect x="381.60" y="658.75" width="1.6" height="3.8"/><rect x="417.70" y="658.75" width="1.6" height="3.8"/><rect x="454.20" y="658.75" width="1.6" height="3.8"/><rect x="466.10" y="658.75" width="1.6" height="3.8"/><rect x="503.20" y="658.75" width="1.6" height="3.8"/><rect x="539.40" y="658.75" width="1.6" height="3.8"/><rect x="576.10" y="658.75" width="1.6" height="3.8"/><rect x="588.10" y="658.75" width="1.6" height="3.8"/><rect x="624.20" y="658.75" width="1.6" height="3.8"/><rect x="660.60" y="658.75" width="1.6" height="3.8"/><rect x="697.00" y="658.75" width="1.6" height="3.8"/><rect x="709.00" y="658.75" width="1.6" height="3.8"/><rect x="745.40" y="658.75" width="1.6" height="3.8"/><rect x="782.10" y="658.75" width="1.6" height="3.8"/><rect x="818.00" y="658.75" width="1.6" height="3.8"/><rect x="854.70" y="658.75" width="1.6" height="3.8"/><rect x="890.80" y="658.75" width="1.6" height="3.8"/><rect x="927.20" y="658.75" width="1.6" height="3.8"/></g>
<path d="M143.5,1150.1 L160.8,1150.1 M175.9,1150.1 L191.1,1150.1 M206.3,1150.1 L221.4,1150.1 M227.8,1140.5 L235.8,1131.0 M242.2,1118.2 L248.6,1108.6 M254.2,1095.8 L259.0,1083.0 M264.6,1070.3 L272.5,1056.7 M278.1,1043.9 L284.5,1032.7 M289.3,1020.8 L295.7,1008.8 M300.8,996.6 L308.9,986.7 M315.1,975.9 L322.3,964.2 M327.7,953.5 L336.7,944.5 M343.0,933.7 L352.0,923.8 M357.4,912.1 L364.5,902.3 M371.7,891.5 L380.7,882.5 M387.9,871.7 L396.9,861.0 M405.0,851.1 L414.0,843.9 M423.8,834.9 L431.9,825.0 M441.8,817.8 L449.9,807.1 M458.0,798.2 L459.8,793.4 L467.6,791.6 M478.4,783.8 L486.7,776.0 M499.3,769.5 L508.9,762.9 L511.3,762.3 L517.3,752.7 M528.7,744.9 L538.2,738.3 M550.8,732.3 L558.0,729.9 L560.4,726.3 M573.0,720.1 L585.8,716.1 M595.3,707.3 L608.1,703.0 M620.1,697.7 L622.5,695.7 L644.8,692.5 M658.4,689.0 L670.4,685.0 M686.4,684.2 L699.1,681.8 M713.5,680.2 L726.2,677.7 M742.1,676.6 L766.1,673.4 M782.1,672.6 L793.2,667.8 M808.4,668.6 L823.6,666.2 M837.2,667.0 L852.3,666.2 M866.7,666.2 L888.0,664.8 M903.3,664.3 L915.4,662.0 M928.0,661.6 L942.0,661.6 L944.3,672.0 M945.0,688.0 L946.2,703.0 M947.0,720.0 L947.6,735.0 M948.2,752.0 L948.7,767.0 M949.3,785.0 L949.9,800.0 M949.0,815.0 L949.2,830.0 M949.3,845.0 L949.5,860.0 M949.7,875.0 L949.8,890.0 M950.0,905.0 L950.1,920.0 M950.3,935.0 L950.5,950.0 M950.6,965.0 L950.8,980.0 M951.0,995.0 L951.1,1010.0 M951.3,1025.0 L951.5,1040.0 M951.6,1055.0 L951.8,1070.0 M951.9,1085.0 L952.0,1100.0 M952.0,1115.0 L952.0,1130.0 M952.1,1145.0 L952.1,1160.0" fill="none" stroke="#000" stroke-width="3.7" stroke-linejoin="round"/>
<path d="M143.3,923.7 L224.8,923.7 L228.7,917.3 L233.5,912.5 L239.9,906.9 L247.9,899.8 L254.3,891.8 L260.7,883.0 L267.1,876.6 L275.0,870.2 L278.2,864.6 L284.6,855.0 L292.6,846.3 L299.0,840.7 L303.8,834.3 L311.8,828.7 L318.2,823.1 L326.1,814.3 L335.7,808.7 L345.3,800.8 L351.7,796.0 L360.5,787.0 L375.2,776.5 L387.7,767.1 L398.2,759.7 L410.8,754.5 L423.4,749.3 L435.9,743.0 L448.5,736.7 L459.0,729.3 L471.6,726.2 L484.1,721.0 L496.7,716.8 L509.3,711.5 L517.7,706.3 L530.3,702.5 L540.0,699.9 L562.0,693.3 L583.9,687.8 L592.7,684.5 L605.9,681.2 L623.4,677.9 L641.0,676.2 L658.6,674.6 L667.3,672.4 L689.3,670.2 L715.7,668.7 L737.6,667.6 L750.0,667.6 L766.5,666.5 L782.9,665.4 L791.7,663.7 L826.8,663.4 L860.0,663.2 L877.0,662.6 L898.9,662.6 L915.4,661.0 L931.8,661.0 L942.8,661.5 L945.5,666.0 L947.5,680.0 L948.7,700.0 L949.5,760.0 L953.0,1080.0 L953.3,1180.8" fill="none" stroke="#000" stroke-width="3.8" stroke-linejoin="round"/>
<text transform="translate(141.2,580.6) scale(1,1.08)" font-size="30" font-weight="bold" text-anchor="middle">-200</text>
<text transform="translate(337.2,580.6) scale(1,1.08)" font-size="30" font-weight="bold" text-anchor="middle">-150</text>
<text transform="translate(541.8,580.6) scale(1,1.08)" font-size="30" font-weight="bold" text-anchor="middle">-100</text>
<text transform="translate(742.3,580.6) scale(1,1.08)" font-size="30" font-weight="bold" text-anchor="middle">-50</text>
<text transform="translate(951,580.6) scale(1,1.08)" font-size="30" font-weight="bold" text-anchor="middle">0</text>
<text transform="translate(144.2,1211.6) scale(1,1.08)" font-size="30" font-weight="bold" text-anchor="middle">-200</text>
<text transform="translate(340,1211.6) scale(1,1.08)" font-size="30" font-weight="bold" text-anchor="middle">-150</text>
<text transform="translate(545,1211.6) scale(1,1.08)" font-size="30" font-weight="bold" text-anchor="middle">-100</text>
<text transform="translate(745.6,1211.6) scale(1,1.08)" font-size="30" font-weight="bold" text-anchor="middle">-50</text>
<text transform="translate(954.3,1211.6) scale(1,1.08)" font-size="30" font-weight="bold" text-anchor="middle">0</text>
<text transform="translate(132.3,558.7) scale(1,1.08)" font-size="30" font-weight="bold" text-anchor="end">0</text>
<text transform="translate(132.1,382.6) scale(1,1.08)" font-size="30" font-weight="bold" text-anchor="end">2</text>
<text transform="translate(132.2,202.8) scale(1,1.08)" font-size="30" font-weight="bold" text-anchor="end">4</text>
<text transform="translate(132.4,26.3) scale(1,1.08)" font-size="30" font-weight="bold" text-anchor="end">6</text>
<text transform="translate(134.4,671.8) scale(1,1.08)" font-size="30" font-weight="bold" text-anchor="end">1.0</text>
<text transform="translate(134.9,841.6) scale(1,1.08)" font-size="30" font-weight="bold" text-anchor="end">0.95</text>
<text transform="translate(134.9,1017.8) scale(1,1.08)" font-size="30" font-weight="bold" text-anchor="end">0.9</text>
<text transform="translate(133.0,1186.6) scale(1,1.08)" font-size="30" font-weight="bold" text-anchor="end">0.85</text>
<text transform="translate(80.6,267.8) rotate(-90) scale(1.025,1)" font-size="34.5" font-weight="bold" text-anchor="middle">log(Count)</text>
<text transform="translate(79.2,924.5) rotate(-90) scale(1.02,1)" font-size="34.8" font-weight="bold" text-anchor="middle">F measure</text>
<text x="618" y="608" font-size="34.5" font-weight="bold" text-anchor="middle">log(<tspan font-style="italic">E</tspan>)</text>
<text x="475" y="1250.7" font-size="35" stroke="#000" stroke-width="0.35">threshold value <tspan font-style="italic">V</tspan><tspan font-size="24" dx="-2.3" dy="8">t</tspan></text>
<text x="-1.9" y="24.45" font-size="36" text-anchor="start" font-weight="normal" font-style="normal" stroke="#000" stroke-width="0.35">(a)</text>
<text x="-0.6" y="654.5" font-size="36" text-anchor="start" font-weight="normal" font-style="normal" stroke="#000" stroke-width="0.35">(b)</text>
<line x1="164" y1="64.5" x2="218" y2="64.5" stroke="#000" stroke-width="4"/>
<circle cx="191" cy="64.5" r="5.3" fill="none" stroke="#000" stroke-width="3.7"/>
<text x="224" y="74.8" font-size="35" text-anchor="start" font-weight="normal" font-style="normal" stroke="#000" stroke-width="0.35">GPCR-GPCR</text>
<line x1="164" y1="109.8" x2="218" y2="109.8" stroke="#000" stroke-width="4"/>
<path d="M187,105.3 L195,114.3 M187,114.3 L195,105.3" stroke="#000" stroke-width="3" fill="none"/>
<text x="224" y="120.3" font-size="35" text-anchor="start" font-weight="normal" font-style="normal" stroke="#000" stroke-width="0.35">GPCR-non GPCR</text>
<text x="311" y="696.7" font-size="35" text-anchor="start" font-weight="normal" font-style="normal" stroke="#000" stroke-width="0.35">Recall</text>
<text x="151" y="953.9" font-size="35" text-anchor="start" font-weight="normal" font-style="normal" stroke="#000" stroke-width="0.35">F measure</text>
<text x="309" y="1023.9" font-size="35" text-anchor="start" font-weight="normal" font-style="normal" stroke="#000" stroke-width="0.35">Precision</text>
</svg>
</body></html>
